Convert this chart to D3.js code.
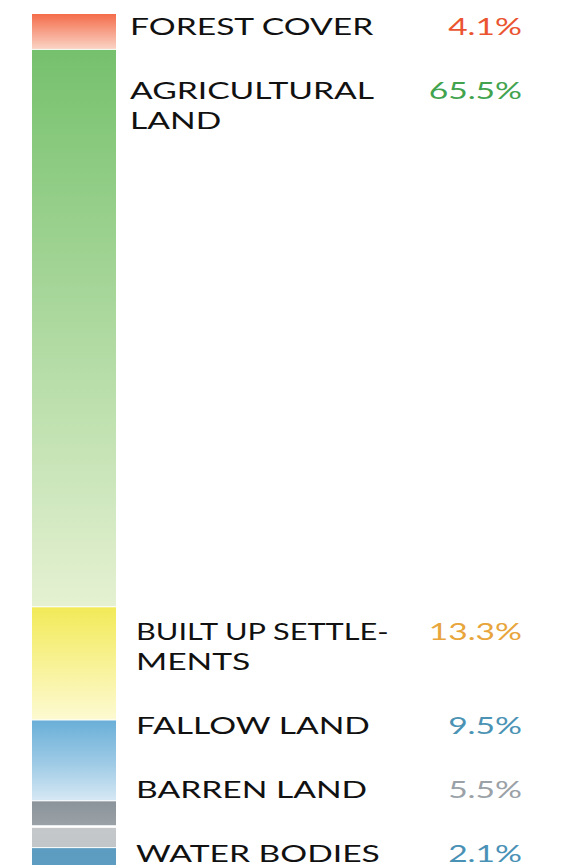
<!DOCTYPE html>
<html>
<head>
<meta charset="utf-8">
<script src="https://cdn.jsdelivr.net/npm/d3@7"></script>
<style>
  body { margin: 0; background: #fff; }
  svg { display: block; }
</style>
</head>
<body>
<svg id="chart"></svg>
<script>
// land use shares, top to bottom
const categories = ["FOREST COVER", "AGRICULTURAL LAND", "BUILT UP SETTLEMENTS", "FALLOW LAND", "BARREN LAND", "WATER BODIES"];
const labelLines = [["FOREST COVER"], ["AGRICULTURAL", "LAND"], ["BUILT UP SETTLE-", "MENTS"], ["FALLOW LAND"], ["BARREN LAND"], ["WATER BODIES"]];
const shares = [4.1, 65.5, 13.3, 9.5, 5.5, 2.1];

// styles
const valueColors = ["#ea5430", "#42a34e", "#e8a53c", "#4b93b4", "#9aa1a7", "#4a91b6"];
const gradientStops = [
  [[0, "#f46c4a"], [1, "#fad3c5"]],
  [[0, "#76c16d"], [1, "#e5f1d2"]],
  [[0, "#f2ea58"], [1, "#fdfad2"]],
  [[0, "#6aafd8"], [0.55, "#9fcbe6"], [1, "#d6e8f4"]],
  [[0, "#8b949b"], [0.52, "#9aa1a7"], [0.53, "#ffffff"], [0.57, "#ffffff"], [0.58, "#c4c8cb"], [1, "#c2c6c9"]],
  [[0, "#5b9cc0"], [1, "#5e9dc1"]]
];

const W = 563, H = 868,
  barX = 32, barW = 84,
  barTop = 14, barBottom = 865,
  labelX = [130, 130, 136, 136, 136, 136],
  valueX = 522,
  fontSize = 24, lineH = 30, blockGap = 64,
  stretch = 1.4, minGap = 40;

const svg = d3.select("#chart").attr("width", W).attr("height", H);

const data = categories.map((c, i) => ({ name: c, lines: labelLines[i], share: shares[i], i: i }));
const ends = d3.cumsum(shares);
data.forEach((d, i) => { d.y0 = i ? ends[i - 1] : 0; d.y1 = ends[i]; });

const y = d3.scaleLinear().domain([0, d3.sum(shares)]).range([barTop, barBottom]);

// gradients
const defs = svg.append("defs");
data.forEach((d, i) => {
  const g = defs.append("linearGradient")
    .attr("id", "grad" + i)
    .attr("x1", 0).attr("y1", 0).attr("x2", 0).attr("y2", 1);
  g.selectAll("stop")
    .data(gradientStops[i])
    .join("stop")
    .attr("offset", s => s[0])
    .attr("stop-color", s => s[1]);
});

// bar segments
svg.selectAll(".seg")
  .data(data)
  .join("rect")
  .attr("class", "seg")
  .attr("x", barX)
  .attr("width", barW)
  .attr("y", d => y(d.y0) + (d.i ? 1 : 0))
  .attr("height", d => y(d.y1) - y(d.y0) - (d.i ? 1 : 0))
  .attr("fill", d => "url(#grad" + d.i + ")");

// label placement: start at segment top, then resolve overlaps
data.forEach(d => { d.base = y(d.y0) + 34; });
data[data.length - 1].base = Math.min(data[data.length - 1].base, barBottom - 3);
for (let i = data.length - 2; i >= 0; i--) {
  const next = data[i + 1];
  data[i].base = Math.min(data[i].base, next.base - blockGap - (data[i].lines.length - 1) * lineH);
}
data[0].base = Math.max(data[0].base, barTop + 21);
for (let i = 1; i < data.length; i++) {
  const prev = data[i - 1];
  data[i].base = Math.max(data[i].base, prev.base + (prev.lines.length - 1) * lineH + blockGap);
}

const font = "Lato, 'DejaVu Sans', sans-serif";

// percentages
svg.selectAll(".value")
  .data(data)
  .join("text")
  .attr("class", "value")
  .attr("font-family", font)
  .attr("font-size", fontSize)
  .attr("text-anchor", "end")
  .attr("x", valueX)
  .attr("y", d => d.base)
  .attr("fill", d => valueColors[d.i])
  .text(d => d3.format(".1f")(d.share) + "%")
  .each(function (d) {
    const w = this.getComputedTextLength() * stretch;
    d3.select(this).attr("textLength", w).attr("lengthAdjust", "spacingAndGlyphs");
    d.valueStart = valueX - w;
  });

// category labels
const labels = svg.selectAll(".label")
  .data(data)
  .join("text")
  .attr("class", "label")
  .attr("font-family", font)
  .attr("font-size", fontSize)
  .attr("fill", "#111");

labels.selectAll("tspan")
  .data(d => d.lines.map((l, k) => ({ text: l, x: labelX[d.i], y: d.base + k * lineH, maxW: d.valueStart - minGap - labelX[d.i] })))
  .join("tspan")
  .attr("x", t => t.x)
  .attr("y", t => t.y)
  .text(t => t.text)
  .each(function (t) {
    const w = Math.min(this.getComputedTextLength() * stretch, t.maxW);
    d3.select(this).attr("textLength", w).attr("lengthAdjust", "spacingAndGlyphs");
  });
</script>
</body>
</html>
